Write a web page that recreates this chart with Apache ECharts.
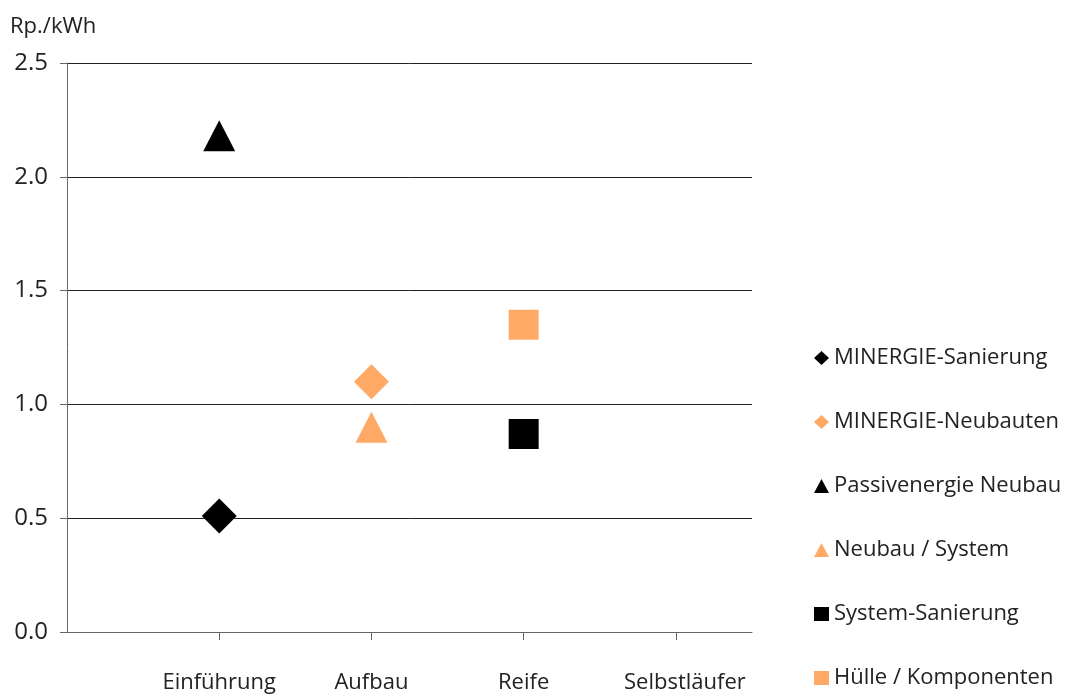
<!DOCTYPE html>
<html>
<head>
<meta charset="utf-8">
<script src="https://cdn.jsdelivr.net/npm/echarts@6/dist/echarts.min.js"></script>
<style>
html,body{margin:0;padding:0;background:#fff;}
#chart{width:1066px;height:696px;}
</style>
</head>
<body>
<div id="chart"></div>
<script>
// ---- data ----
const categories = ['Einführung', 'Aufbau', 'Reife', 'Selbstläufer'];
const yTicks = [0, 0.5, 1.0, 1.5, 2.0, 2.5];
const seriesNames = ['MINERGIE-Sanierung', 'MINERGIE-Neubauten', 'Passivenergie Neubau', 'Neubau / System', 'System-Sanierung', 'Hülle / Komponenten'];
const seriesCategory = ['Einführung', 'Aufbau', 'Einführung', 'Aufbau', 'Reife', 'Reife'];
const seriesValues = [0.51, 1.10, 2.18, 0.90, 0.87, 1.35];
const unitLabel = 'Rp./kWh';

// ---- styles ----
const ORANGE = '#FFA966';
const BLACK = '#000000';
const seriesColors = [BLACK, ORANGE, BLACK, ORANGE, BLACK, ORANGE];
const seriesSymbols = ['diamond', 'diamond', 'triangle', 'triangle', 'rect', 'rect'];
const symbolSizes = [[35, 35], [35, 35], [32, 31], [32, 31], [30, 30], [30, 30]];
const FONT = 'Open Sans';
const FS = 22;

const catPos = categories.map((c, i) => i + 1);

const series = seriesNames.map((name, i) => ({
  name: name,
  type: 'scatter',
  symbol: seriesSymbols[i],
  symbolSize: symbolSizes[i],
  itemStyle: { color: seriesColors[i], opacity: 1 },
  emphasis: { disabled: true },
  data: [[categories.indexOf(seriesCategory[i]) + 1, seriesValues[i]]]
}));

const chart = echarts.init(document.getElementById('chart'), null, { renderer: 'canvas' });
chart.setOption({
  animation: false,
  backgroundColor: '#ffffff',
  textStyle: { fontFamily: FONT },
  title: {
    text: unitLabel,
    left: 5,
    top: 11,
    textStyle: { fontFamily: FONT, fontSize: FS, fontWeight: 'normal', color: '#222' }
  },
  grid: { left: 67, right: 314, top: 63, bottom: 64, containLabel: false, outerBoundsMode: 'none' },
  xAxis: {
    type: 'value',
    min: 0,
    max: 4.5,
    interval: 1,
    splitLine: { show: false },
    axisLine: { show: true, lineStyle: { color: '#666', width: 1 } },
    axisTick: { show: true, length: 8, inside: false, customValues: catPos, lineStyle: { color: '#666' } },
    axisLabel: {
      customValues: catPos,
      margin: 40,
      fontFamily: FONT,
      fontSize: FS,
      color: '#222',
      formatter: function (v) {
        const idx = Math.round(v) - 1;
        if (idx === categories.length - 1) return '{s|' + categories[idx] + '}';
        return categories[idx] || '';
      },
      rich: { s: { fontFamily: FONT, fontSize: FS, color: '#222', padding: [0, 0, 0, 18] } }
    }
  },
  yAxis: {
    type: 'value',
    min: yTicks[0],
    max: yTicks[yTicks.length - 1],
    interval: 0.5,
    axisLine: { show: true, lineStyle: { color: '#666', width: 1 } },
    axisTick: { show: true, length: 7, inside: false, lineStyle: { color: '#666' } },
    splitLine: { show: true, lineStyle: { color: '#222', width: 1 } },
    axisLabel: {
      margin: 19,
      fontFamily: FONT,
      fontSize: 24,
      color: '#222',
      formatter: v => v.toFixed(1)
    }
  },
  legend: {
    orient: 'vertical',
    left: 809,
    top: 342,
    itemWidth: 15,
    itemHeight: 14,
    itemGap: 42,
    selectedMode: false,
    textStyle: { fontFamily: FONT, fontSize: FS, color: '#222' },
    data: seriesNames.map((n, i) => ({ name: n, icon: seriesSymbols[i] }))
  },
  series: series
});
</script>
</body>
</html>
